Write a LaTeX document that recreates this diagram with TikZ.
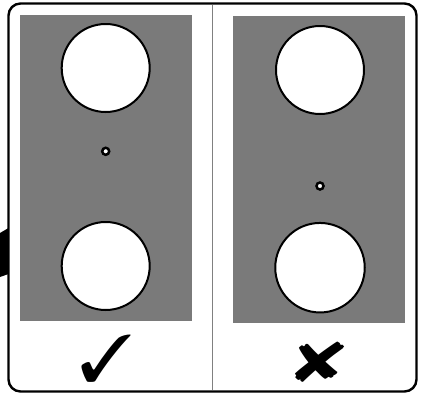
\documentclass[tikz,border=0pt]{standalone}
\usepackage{pifont}
\usepackage{xcolor}
\definecolor{PanelGray}{HTML}{7A7A7A}
\definecolor{RuleGray}{HTML}{808080}
\tikzset{
	hole/.style={circle, draw=black, fill=white, line width=2pt, inner sep=0pt, minimum size=88pt},
	pin/.style={circle, draw=black, fill=white, line width=2.5pt, inner sep=0pt, minimum size=7pt},
	verdict/.style={inner sep=0pt}
}
\begin{document}
\begin{tikzpicture}[x=1pt,y=-1pt]
	\useasboundingbox (0,0) rectangle (421,394);
	\fill[white] (0,0) rectangle (421,394);

	% tab peeking in at the left edge
	\fill[black] (0,233) -- (8.5,228) -- (8.5,274) -- (0,277) -- cycle;

	% outer frame and divider
	\draw[rounded corners=12pt, fill=white, line width=2.4pt] (8.5,3.5) rectangle (416.5,391.5);
	\coordinate (divtop) at (212.3,4.7);
	\coordinate (divbot) at (212.3,390.3);
	\draw[RuleGray, line width=1pt] (divtop) -- (divbot);

	% left panel: holes evenly spaced
	\fill[PanelGray] (20,15) rectangle (192,320.7);
	\node[hole] (lefttop) at (105.7,68) {};
	\node[hole] (leftbot) at (105.7,266) {};
	\node[pin] (leftpin) at (105.7,151.3) {};
	\node[verdict, font=\fontsize{66}{66}\selectfont] (ok) at (106,359) {\scalebox{1.08}[1]{\ding{51}}};

	% right panel: pin off centre
	\fill[PanelGray] (233,16) rectangle (405,322.7);
	\node[hole] (righttop) at (320,70) {};
	\node[hole, minimum size=89.5pt] (rightbot) at (320,267.7) {};
	\node[pin] (rightpin) at (320,186) {};
	\node[verdict, font=\fontsize{56}{56}\selectfont] (bad) at (320,362) {\scalebox{1.45}[1]{\ding{56}}};
\end{tikzpicture}
\end{document}
